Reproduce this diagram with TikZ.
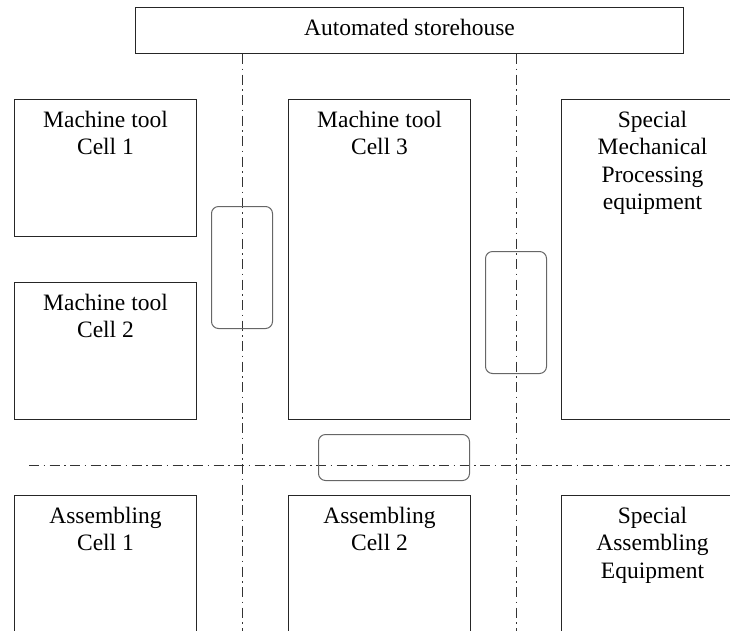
\documentclass[tikz,border=0pt]{standalone}
\usepackage{fontspec}
\setmainfont{Liberation Serif}
\begin{document}
\begin{tikzpicture}[x=1pt,y=-1pt,
  cellbox/.style={draw=black!85,line width=1pt,anchor=north west,inner sep=0pt},
  transbox/.style={draw=black!60,line width=1pt,rounded corners=7pt,anchor=north west,inner sep=0pt},
  lbl/.style={anchor=north,align=center,inner sep=0pt,font=\fontsize{23.5}{27.5}\selectfont},
  axisline/.style={draw=black!80,line width=0.9pt,dash pattern=on 10pt off 4.5pt on 1.5pt off 4.5pt}]
\useasboundingbox (0,0) rectangle (730,630);
\clip (0,0) rectangle (730,630);

% storehouse at the top
\node[cellbox,minimum width=548pt,minimum height=46pt] (store) at (135,7) {};
\node[lbl] (storetxt) at ([yshift=-9.5pt]store.north) {\strut Automated storehouse};

% machining row
\node[cellbox,minimum width=182pt,minimum height=137pt] (mc1) at (14,99) {};
\node[cellbox,minimum width=182pt,minimum height=137pt] (mc2) at (14,282) {};
\node[cellbox,minimum width=182pt,minimum height=320pt] (mc3) at (288,99) {};
\node[cellbox,minimum width=182pt,minimum height=320pt] (smp) at (561,99) {};
\node[lbl] at ([yshift=-9pt]mc1.north) {\strut Machine tool\\Cell 1};
\node[lbl] at ([yshift=-9pt]mc2.north) {\strut Machine tool\\Cell 2};
\node[lbl] at ([yshift=-9pt]mc3.north) {\strut Machine tool\\Cell 3};
\node[lbl] at ([yshift=-9pt]smp.north) {\strut Special\\Mechanical\\Processing\\equipment};

% assembling row
\node[cellbox,minimum width=182pt,minimum height=160pt] (ac1) at (14,495) {};
\node[cellbox,minimum width=182pt,minimum height=160pt] (ac2) at (288,495) {};
\node[cellbox,minimum width=182pt,minimum height=160pt] (sae) at (561,495) {};
\node[lbl] at ([yshift=-9pt]ac1.north) {\strut Assembling\\Cell 1};
\node[lbl] at ([yshift=-9pt]ac2.north) {\strut Assembling\\Cell 2};
\node[lbl] at ([yshift=-9pt]sae.north) {\strut Special\\Assembling\\Equipment};

% transport axes
\coordinate (v1end) at (242,640);
\coordinate (v2end) at (516,640);
\coordinate (hstart) at (29,465);
\coordinate (hend) at (740,465);
\draw[axisline] (store.south -| v1end) -- (v1end);
\draw[axisline] (store.south -| v2end) -- (v2end);
\draw[axisline] (hstart) -- (hend);

% transport vehicles
\node[transbox,minimum width=61pt,minimum height=122pt] (agv1) at (211,206) {};
\node[transbox,minimum width=61pt,minimum height=122pt] (agv2) at (485,251) {};
\node[transbox,minimum width=151pt,minimum height=46pt] (agv3) at (318,434) {};
\end{tikzpicture}
\end{document}
